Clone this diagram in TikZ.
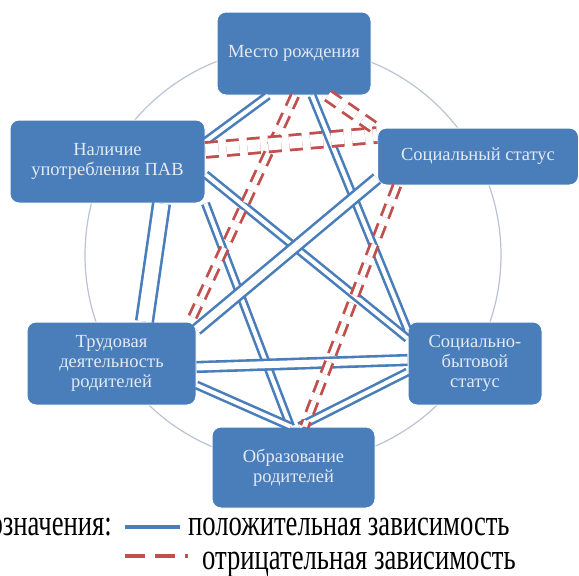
\documentclass[tikz,border=0pt]{standalone}
\usepackage{fontspec}
\setmainfont{Liberation Serif}
\newfontfamily\legendfont[FakeStretch=0.72]{Liberation Serif}
\usepackage{tikz}
\usetikzlibrary{positioning}
\usetikzlibrary{calc}
\definecolor{boxblue}{HTML}{4A7EBB}
\definecolor{lineblue}{HTML}{4A7EBB}
\definecolor{linered}{HTML}{C0504D}
\definecolor{ringgray}{HTML}{B9C3D3}
\definecolor{boxtext}{HTML}{E4EAF3}

\begin{document}
\begin{tikzpicture}[x=1pt, y=-1pt,
    box/.style={draw=white, line width=1pt, fill=boxblue, rounded corners=9pt, text=boxtext, align=center, inner sep=0pt, font=\fontsize{18.5}{20}\selectfont},
    poslink/.style={draw=lineblue, line width=2.6pt, double=white, double distance=#1},
    poslink/.default=4pt,
    neglink/.style={draw=linered, line width=2.8pt, double=white, double distance=#1, dash pattern=on 13pt off 8pt},
    neglink/.default=5pt,
    legendtext/.style={inner sep=0pt, font=\legendfont\fontsize{37}{40}\selectfont}]
        \useasboundingbox (0,0) rectangle (579,576);
        \draw[ringgray, line width=1.2pt] (293,255) circle (208pt);

        \node[box, minimum width=154pt, minimum height=83pt] (birth) at (294,53.5) {Место рождения};
        \node[box, minimum width=195pt, minimum height=83pt] (pav) at (107.5,161.5) {Наличие\\употребления ПАВ};
        \node[box, minimum width=201pt, minimum height=57pt] (status) at (478,156.5) {Социальный статус};
        \node[box, minimum width=169pt, minimum height=83pt] (work) at (111.5,363.5) {Трудовая\\деятельность\\родителей};
        \node[box, minimum width=134pt, minimum height=83pt] (living) at (475,363.5) {Социально-\\бытовой\\статус};
        \node[box, minimum width=163pt, minimum height=81pt] (edu) at (293.5,467.5) {Образование\\родителей};

        \draw[poslink] ([xshift=-26pt]birth.south) -- ([yshift=20pt]pav.east);
        \draw[poslink] ([xshift=18pt]birth.south) -- ([yshift=-8pt]living.north west);
        \draw[poslink=14pt] ([xshift=54pt]pav.south) -- ([xshift=33pt]work.north);
        \draw[poslink] ([yshift=-13pt]pav.east) -- ([yshift=25pt]living.west);
        \draw[poslink] (pav.south east) -- ([xshift=-3pt]edu.north);
        \draw[poslink=8pt] ([yshift=7pt]status.south west) -- ([yshift=-8pt]work.north east);
        \draw[poslink=7pt] ([yshift=-3.5pt]work.east) -- ([yshift=3.5pt]living.west);
        \draw[poslink] ([yshift=-21.5pt]work.east) -- ([xshift=-3pt]edu.north);
        \draw[poslink] ([yshift=-8.5pt]living.west) -- ([xshift=6pt]edu.north);

        \draw[neglink] ([xshift=1pt]birth.south) -- ([xshift=-6pt]work.north east);
        \draw[neglink=8pt] ([xshift=34pt]birth.south) -- ([yshift=-2pt]status.north west);
        \draw[neglink=12pt] ([yshift=11.5pt]pav.east) -- ([yshift=21.5pt]status.west);
        \draw[neglink] ([xshift=20pt]status.south west) -- ([xshift=11pt]edu.north);

        \coordinate (posA) at (125,527);
        \coordinate (posB) at (180,527);
        \coordinate (negA) at (125,556);
        \coordinate (negB) at (188,556);
        \node[legendtext, anchor=base east] (title) at (112,535) {означения:};
        \node[legendtext, anchor=base west] (poslabel) at (188,535) {положительная зависимость};
        \node[legendtext, anchor=base west] (neglabel) at (202,569) {отрицательная зависимость};
        \draw[lineblue, line width=3.5pt] (posA) -- (posB);
        \draw[linered, line width=4pt, dash pattern=on 20pt off 10pt] (negA) -- (negB);
\end{tikzpicture}
\end{document}
